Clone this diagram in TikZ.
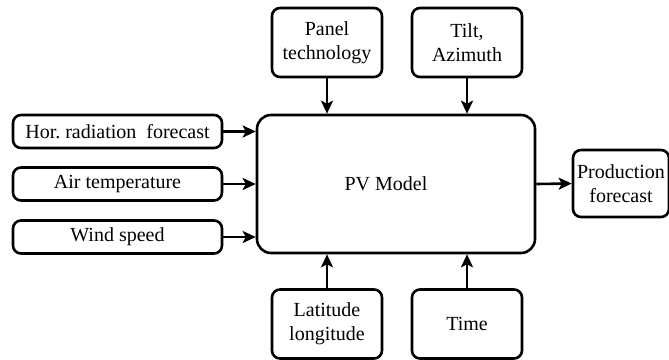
\documentclass[tikz,border=0pt]{standalone}
\usepackage{fontspec}
\setmainfont{LiberationSerif}[Extension=.ttf, UprightFont=*-Regular, BoldFont=*-Bold]
\usetikzlibrary{arrows.meta,calc}

\tikzset{
    inbox/.style={draw, line width=1.3pt, rounded corners=4pt, align=center, inner sep=0pt,
        font=\rmfamily\fontsize{10}{12}\selectfont},
    sidebox/.style={inbox, minimum width=104.5pt, minimum height=16.5pt},
    smallbox/.style={inbox, minimum width=55pt, minimum height=34.5pt},
    modelbox/.style={draw, line width=1.3pt, rounded corners=7pt, minimum width=139pt, minimum height=69pt},
    feed/.style={line width=1.3pt, -{Stealth[length=6.5pt,width=6pt,inset=1.5pt]}}
}

\begin{document}
\begin{tikzpicture}[x=0.5pt,y=-0.5pt]
    \useasboundingbox (0,0) rectangle (669,359);

    \node[modelbox] (pv) at (396,184) {};
    \node[font=\rmfamily\fontsize{10}{12}\selectfont] (pvtext) at (386,184) {PV Model};

    \node[sidebox] (hor) at (117.5,131.5) {Hor.\ radiation\ \ forecast};
    \node[sidebox] (air) at (117.5,184) {Air temperature};
    \node[sidebox] (wind) at (117.5,237) {Wind speed};

    \node[smallbox] (panel) at (327,42.5) {Panel\\technology};
    \node[smallbox] (tilt) at (467,42.5) {Tilt,\\Azimuth};

    \node[smallbox] (lat) at (327,324) {Latitude\\longitude};
    \node[smallbox] (time) at (467,324) {Time};

    \node[inbox, minimum width=48pt, minimum height=33.5pt] (prod) at (621,183.5) {Production\\forecast};

    \draw[feed] (hor.east) -- (hor.east -| pv.west);
    \draw[feed] (air.east) -- (air.east -| pv.west);
    \draw[feed] (wind.east) -- (wind.east -| pv.west);
    \draw[feed] (panel.south) -- (panel.south |- pv.north);
    \draw[feed] (tilt.south) -- (tilt.south |- pv.north);
    \draw[feed] (lat.north) -- (lat.north |- pv.south);
    \draw[feed] (time.north) -- (time.north |- pv.south);
    \draw[feed] (pv.east) -- (prod.west);
\end{tikzpicture}
\end{document}
